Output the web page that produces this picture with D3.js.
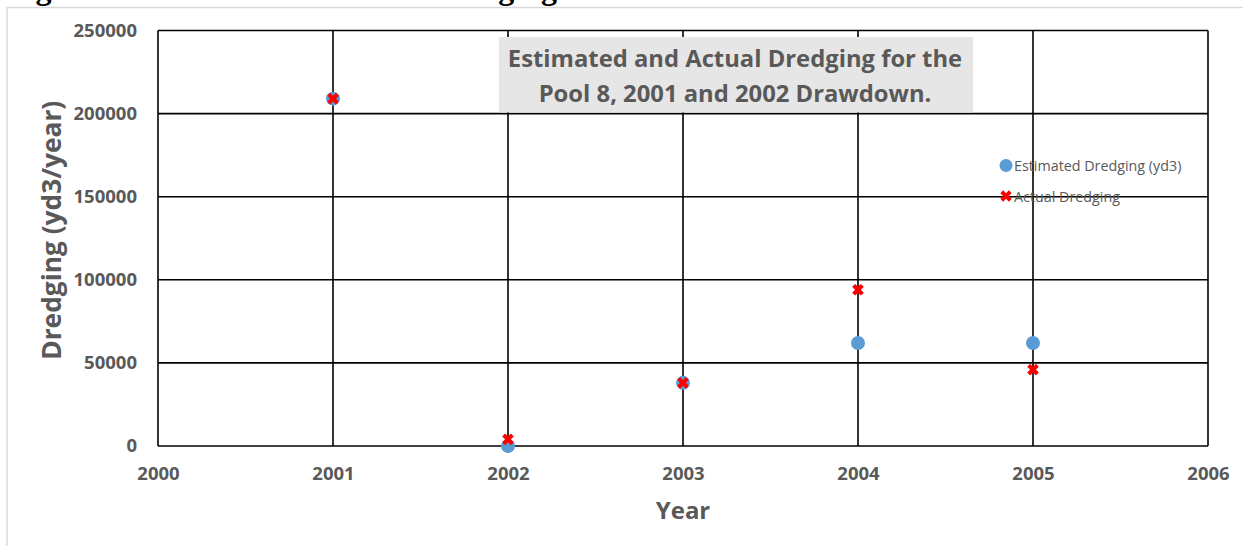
<!DOCTYPE html>
<html>
<head>
<meta charset="utf-8">
<script src="https://cdn.jsdelivr.net/npm/d3@7"></script>
<style>
  html, body { margin: 0; padding: 0; background: #fff; }
  svg { display: block; }
</style>
</head>
<body>
<svg id="chart" width="1243" height="546"></svg>
<script>
// ---- data ----
const years = [2001, 2002, 2003, 2004, 2005];
const estimated = [209000, 0, 38000, 62000, 62000];
const actual = [209000, 4000, 38000, 94000, 46000];
const xTicks = [2000, 2001, 2002, 2003, 2004, 2005, 2006];
const yTicks = [0, 50000, 100000, 150000, 200000, 250000];
const seriesNames = ["Estimated Dredging (yd3)", "Actual Dredging"];
const chartTitle = ["Estimated and Actual Dredging for the", "Pool 8, 2001 and 2002 Drawdown."];
const xTitle = "Year";
const yTitle = "Dredging (yd3/year)";
const caption = "Figure 5. Estimated and actual dredging in Pool 8 for the 2001 and 2002 drawdowns";

(function () {
const svg = d3.select("#chart");
const W = 1243, H = 546;
const pL = 158, pR = 1208, pT = 30.5, pB = 446;
const gray = "#595959";
const font = "'Open Sans', 'DejaVu Sans', sans-serif";

const x = d3.scaleLinear().domain([2000, 2006]).range([pL, pR]);
const y = d3.scaleLinear().domain([0, 250000]).range([pB, pT]);

// caption partially cut off at top
svg.append("text")
  .attr("x", 7).attr("y", -1.5)
  .attr("font-family", "'Liberation Serif', 'Times New Roman', serif")
  .attr("font-weight", "bold").attr("font-size", 32)
  .attr("fill", "#000")
  .text(caption);

// chart frame
svg.append("rect")
  .attr("x", 7).attr("y", 7.5).attr("width", W + 20).attr("height", H + 20)
  .attr("fill", "#fff").attr("stroke", "#d9d9d9").attr("stroke-width", 1.5);

// gridlines
const grid = svg.append("g");
grid.selectAll("line.h").data(yTicks).join("line")
  .attr("x1", pL).attr("x2", pR)
  .attr("y1", d => y(d)).attr("y2", d => y(d))
  .attr("stroke", "#000").attr("stroke-width", 1.6);
grid.selectAll("line.v").data(xTicks).join("line")
  .attr("y1", pT).attr("y2", pB)
  .attr("x1", d => x(d)).attr("x2", d => x(d))
  .attr("stroke", "#000").attr("stroke-width", 1.6);

// axes (labels only)
const yAxis = svg.append("g").attr("transform", `translate(${pL},0)`)
  .call(d3.axisLeft(y).tickValues(yTicks).tickSize(0).tickPadding(21).tickFormat(d3.format("d")));
const xAxis = svg.append("g").attr("transform", `translate(0,${pB})`)
  .call(d3.axisBottom(x).tickValues(xTicks).tickSize(0).tickPadding(21).tickFormat(d3.format("d")));
[yAxis, xAxis].forEach(a => {
  a.select(".domain").remove();
  a.selectAll("text").attr("font-family", font).attr("font-weight", "bold")
    .attr("font-size", 18.5).attr("fill", gray);
});

// axis titles
svg.append("text")
  .attr("x", (pL + pR) / 2).attr("y", 519)
  .attr("text-anchor", "middle")
  .attr("font-family", font).attr("font-weight", "bold").attr("font-size", 24)
  .attr("fill", gray).text(xTitle);
svg.append("text")
  .attr("transform", `translate(61,${(pT + pB) / 2 - 8}) rotate(-90)`)
  .attr("text-anchor", "middle")
  .attr("font-family", font).attr("font-weight", "bold").attr("font-size", 26.3)
  .attr("fill", gray).text(yTitle);

// chart title box
svg.append("rect")
  .attr("x", 499).attr("y", 37).attr("width", 474).attr("height", 75.5)
  .attr("fill", "#e7e6e6");
svg.append("g").selectAll("text").data(chartTitle).join("text")
  .attr("x", 735).attr("y", (d, i) => 66.5 + i * 35)
  .attr("text-anchor", "middle")
  .attr("font-family", font).attr("font-weight", "bold").attr("font-size", 23.8)
  .attr("fill", gray).text(d => d);

// data
const estData = years.map((yr, i) => ({ yr, v: estimated[i] }));
const actData = years.map((yr, i) => ({ yr, v: actual[i] }));
const xSym = d3.symbol().type(d3.symbolCross).size(85);

svg.append("g").selectAll("circle").data(estData).join("circle")
  .attr("cx", d => x(d.yr)).attr("cy", d => y(d.v)).attr("r", 7)
  .attr("fill", "#5b9bd5");
svg.append("g").selectAll("path").data(actData).join("path")
  .attr("d", xSym)
  .attr("transform", d => `translate(${x(d.yr)},${y(d.v)}) rotate(45)`)
  .attr("fill", "#ff0000");

// legend
const leg = svg.append("g");
leg.append("circle").attr("cx", 1006).attr("cy", 165.5).attr("r", 6.5).attr("fill", "#5b9bd5");
leg.append("path").attr("d", d3.symbol().type(d3.symbolCross).size(80))
  .attr("transform", "translate(1006,196) rotate(45)").attr("fill", "#ff0000");
leg.selectAll("text").data(seriesNames).join("text")
  .attr("x", 1014).attr("y", (d, i) => 170.5 + i * 31)
  .attr("font-family", font).attr("font-size", 14.3).attr("fill", gray)
  .text(d => d);
})();
</script>
</body>
</html>
